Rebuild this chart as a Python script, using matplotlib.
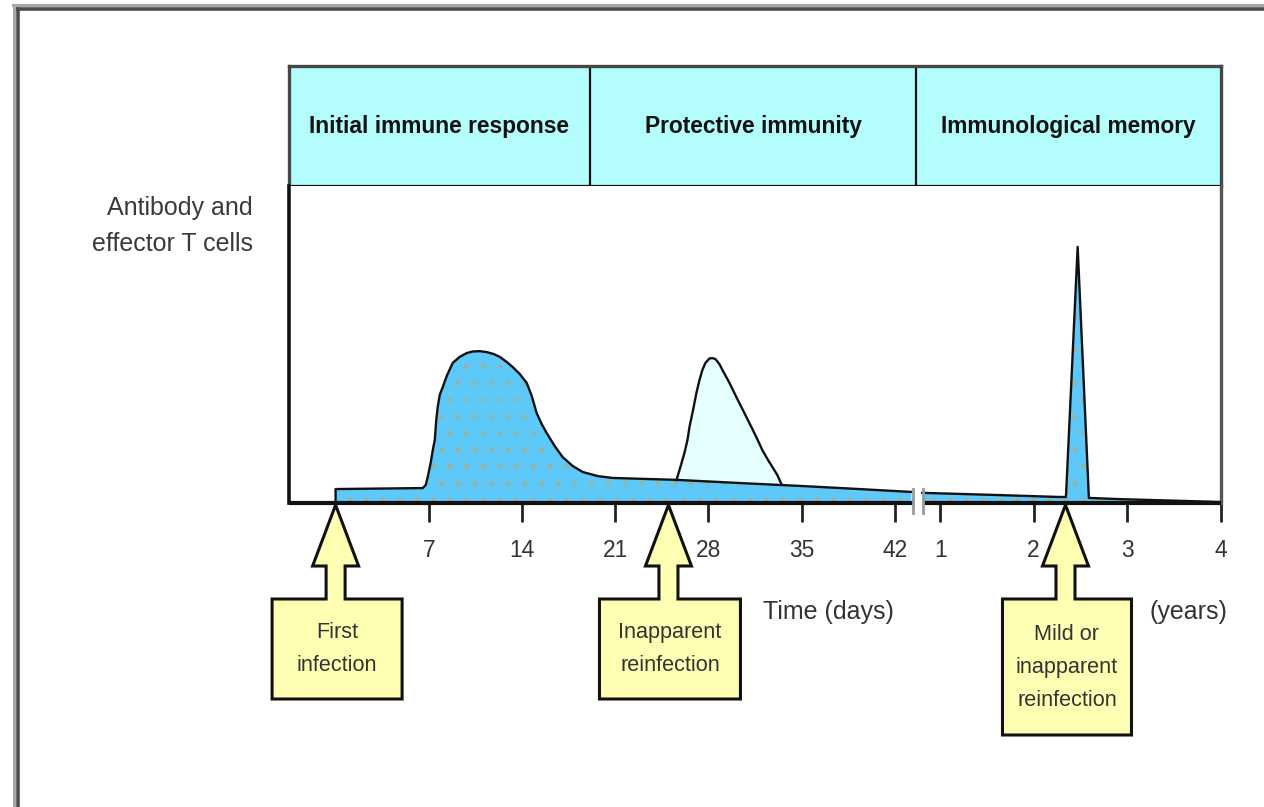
import matplotlib
matplotlib.use("Agg")
import matplotlib.pyplot as plt
from matplotlib import font_manager
from matplotlib.patches import Polygon
from matplotlib.lines import Line2D

W, H = 1264, 807

# phase names in the top band
phases = ['Initial immune response', 'Protective immunity', 'Immunological memory']

# antibody / effector T cell level after the first infection (days, relative height)
first_days = [0, 6.55, 6.77, 6.92, 7.15, 7.30, 7.45, 7.56, 7.67, 7.82, 8.05, 8.35, 8.80,
              9.32, 9.85, 10.30, 10.82, 11.35, 11.87, 12.33, 12.85, 13.30, 13.83, 14.35,
              14.73, 15.10, 15.48, 15.85, 16.45, 17.05, 17.80, 18.55, 19.68, 20.80, 25.60,
              30.33, 34.83, 39.33, 43.21]
first_level = [0.044, 0.047, 0.057, 0.082, 0.129, 0.167, 0.199, 0.262, 0.303, 0.341,
               0.366, 0.401, 0.442, 0.461, 0.473, 0.478, 0.479, 0.476, 0.470, 0.461,
               0.445, 0.429, 0.407, 0.379, 0.338, 0.284, 0.249, 0.221, 0.180, 0.145,
               0.117, 0.098, 0.085, 0.079, 0.073, 0.063, 0.054, 0.044, 0.035]

# inapparent reinfection bump (days, relative height)
reinf_days = [25.60, 25.90, 26.20, 26.43, 26.58, 26.88, 27.10, 27.33, 27.55, 27.78, 28.08,
              28.30, 28.53, 28.83, 29.05, 29.58, 30.10, 30.63, 31.08, 31.60, 32.05, 32.43,
              32.80, 33.18, 33.48]
reinf_level = [0.072, 0.114, 0.158, 0.199, 0.240, 0.300, 0.347, 0.388, 0.420, 0.442, 0.456,
               0.457, 0.454, 0.438, 0.420, 0.379, 0.334, 0.290, 0.252, 0.208, 0.167, 0.139,
               0.114, 0.088, 0.060]

# memory phase (years, relative height)
mem_years = [0.81, 1.63, 2.27, 2.345, 2.47, 2.59, 2.94, 3.9, 4.0]
mem_level = [0.032, 0.025, 0.019, 0.019, 0.808, 0.016, 0.012, 0.004, 0.003]

day_ticks = [7, 14, 21, 28, 35, 42]
year_ticks = [1, 2, 3, 4]

# infection events: label, unit, time
events = [('First\ninfection', 'day', 0),
          ('Inapparent\nreinfection', 'day', 25),
          ('Mild or\ninapparent\nreinfection', 'year', 2.34)]


def year_x(y):
    # years share the axis after the break, one year = 7 day units
    return 45.4 + (y - 1) * 7.03


def fig_box(left, top, right, bottom):
    return [left / W, 1 - bottom / H, (right - left) / W, (bottom - top) / H]


names = {f.name for f in font_manager.fontManager.ttflist}
if 'Liberation Sans Narrow' in names:
    fam, k = 'Liberation Sans Narrow', 1.0
else:
    fam, k = 'Liberation Sans', 0.82
plt.rcParams['font.family'] = [fam, 'DejaVu Sans']
plt.rcParams['hatch.linewidth'] = 1.2

blue = '#5ec9f8'
pale = '#e6ffff'
band = '#b4fdfd'
yellow = '#ffffb4'

fig = plt.figure(figsize=(W / 100, H / 100), dpi=100)
fig.patch.set_facecolor('white')

# outer frame (top and left only)
fig.add_artist(Line2D([13 / W, 1], [1 - 5 / H, 1 - 5 / H], color='#a8a8a8', lw=2.2))
fig.add_artist(Line2D([17 / W, 1], [1 - 9 / H, 1 - 9 / H], color='#4d4d4d', lw=2.6))
fig.add_artist(Line2D([14 / W, 14 / W], [0, 1 - 5 / H], color='#a8a8a8', lw=2.2))
fig.add_artist(Line2D([17.5 / W, 17.5 / W], [0, 1 - 9 / H], color='#4d4d4d', lw=2.6))

xmin, xmax = -3.5, 66.5

# header band
hx = fig.add_axes(fig_box(289, 66, 1221, 186))
hx.set_facecolor(band)
hx.set_xlim(xmin, xmax)
hx.set_ylim(0, 1)
hx.set_xticks([])
hx.set_yticks([])
for s in hx.spines.values():
    s.set_color('#474747')
    s.set_linewidth(2.4)
hx.spines['bottom'].set_color('#111111')
hx.spines['bottom'].set_linewidth(1.6)
edges = [xmin, 19.1, 43.6, xmax]
for e in edges[1:-1]:
    hx.axvline(e, color='#111111', lw=1.6)
for i, name in enumerate(phases):
    hx.text((edges[i] + edges[i + 1]) / 2, 0.5, name, ha='center', va='center',
            fontsize=20 * k, fontweight='bold', color='#111111')

# main panel
ax = fig.add_axes(fig_box(289, 186, 1221, 503))
ax.set_xlim(xmin, xmax)
ax.set_ylim(0, 1)
ax.set_yticks([])
ax.spines['top'].set_visible(False)
ax.spines['bottom'].set_visible(False)
ax.spines['left'].set_color('#111111')
ax.spines['left'].set_linewidth(2.6)
ax.spines['right'].set_color('#555555')
ax.spines['right'].set_linewidth(2.4)

ax.fill_between(reinf_days, 0, reinf_level, color=pale, lw=0, zorder=2)
ax.plot(reinf_days, reinf_level, color='#111111', lw=1.7, zorder=4)

ax.fill_between(first_days, 0, first_level, color=blue, lw=0, zorder=3)
ax.fill_between(first_days, 0, first_level, facecolor='none', edgecolor='#93b5a8',
                hatch='.', lw=0, zorder=3.1)
ax.plot([0] + first_days, [0] + first_level, color='#111111', lw=1.7, zorder=4)

mem_x = [year_x(y) for y in mem_years]
ax.fill_between(mem_x, 0, mem_level, color=blue, lw=0, zorder=3)
ax.fill_between(mem_x, 0, mem_level, facecolor='none', edgecolor='#93b5a8',
                hatch='.', lw=0, zorder=3.1)
ax.plot(mem_x, mem_level, color='#111111', lw=1.7, zorder=4)

# baseline with axis break
ax.plot([xmin, 43.35], [0, 0], color='#111111', lw=3, clip_on=False, zorder=5,
        solid_capstyle='butt')
ax.plot([44.1, xmax], [0, 0], color='#111111', lw=3, clip_on=False, zorder=5,
        solid_capstyle='butt')
for bx in (43.35, 44.1):
    ax.plot([bx, bx], [-0.03, 0.045], color='#9a9a9a', lw=2, clip_on=False, zorder=6)

ticks = list(day_ticks) + [year_x(y) for y in year_ticks]
labels = [str(d) for d in day_ticks] + [str(y) for y in year_ticks]
ax.set_xticks(ticks)
ax.set_xticklabels(labels)
ax.tick_params(axis='x', direction='out', length=14, width=2, color='#222222',
               pad=12, labelsize=20 * k, labelcolor='#333333')

fig.text(253 / W, 1 - 226 / H, 'Antibody and\neffector T cells', ha='right',
         va='center', fontsize=22 * k, color='#3a3a3a', linespacing=1.68)
fig.text(828 / W, 1 - 612 / H, 'Time (days)', ha='center', va='center',
         fontsize=22 * k, color='#333333')
fig.text(1188 / W, 1 - 612 / H, '(years)', ha='center', va='center',
         fontsize=22 * k, color='#333333')

# arrows with labelled boxes
to_fig = fig.transFigure.inverted()
box_w = [130, 141, 129]
for (label, unit, t), bw in zip(events, box_w):
    x = t if unit == 'day' else year_x(t)
    tip = to_fig.transform(ax.transData.transform((x, 0)))[0] * W
    nlines = label.count('\n') + 1
    top, bottom = 599, 599 + 34 + 36 * (nlines - 1) + 30
    c = tip + 1.5
    pts = [(tip, 505), (tip + 23, 566), (tip + 9.5, 566), (tip + 9.5, top),
           (c + bw / 2, top), (c + bw / 2, bottom), (c - bw / 2, bottom),
           (c - bw / 2, top), (tip - 9.5, top), (tip - 9.5, 566), (tip - 23, 566)]
    poly = Polygon([(px / W, 1 - py / H) for px, py in pts], closed=True,
                   transform=fig.transFigure, facecolor=yellow, edgecolor='#111111',
                   lw=2.2, joinstyle='miter', zorder=10)
    fig.add_artist(poly)
    fig.text(c / W, 1 - (top + bottom) / 2 / H, label, ha='center', va='center',
             fontsize=19 * k, color='#333333', linespacing=1.75, zorder=11)

fig.savefig('out.png', dpi=100)
